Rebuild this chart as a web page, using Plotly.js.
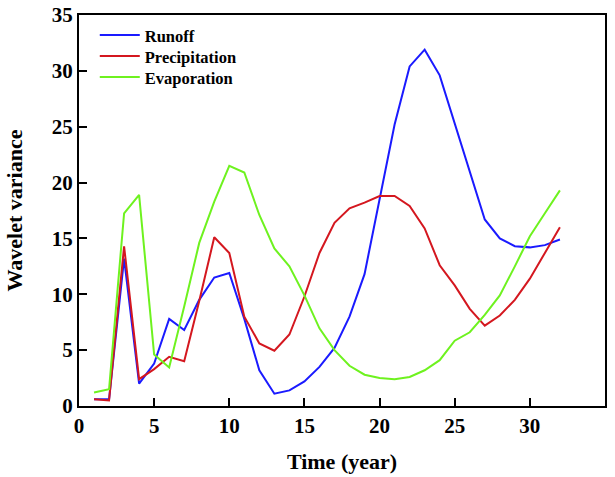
<!DOCTYPE html>
<html><head><meta charset="utf-8">
<script src="https://cdn.plot.ly/plotly-3.0.1.min.js"></script>
<style>body{margin:0;background:#fff}#c{width:615px;height:477px}</style>
</head><body><div id="c"></div>
<script>
const years = [1,2,3,4,5,6,7,8,9,10,11,12,13,14,15,16,17,18,19,20,21,22,23,24,25,26,27,28,29,30,31,32];
const runoff = [0.6,0.6,13.2,2.0,3.8,7.8,6.8,9.5,11.5,11.9,7.8,3.2,1.1,1.4,2.2,3.5,5.2,8.0,11.8,18.4,25.2,30.4,31.9,29.6,25.3,20.8,16.7,15.0,14.3,14.2,14.4,14.9];
const precipitation = [0.6,0.5,14.3,2.4,3.3,4.4,4.0,9.4,15.1,13.7,8.0,5.6,4.95,6.4,9.8,13.7,16.4,17.7,18.2,18.8,18.8,17.9,15.9,12.6,10.8,8.7,7.2,8.1,9.5,11.4,13.7,16.0];
const evaporation = [1.2,1.5,17.25,18.9,4.6,3.45,8.9,14.6,18.3,21.5,20.9,17.1,14.1,12.5,9.9,6.95,5.0,3.6,2.8,2.5,2.4,2.6,3.2,4.1,5.85,6.6,8.15,9.9,12.5,15.2,17.25,19.3];
const seriesNames = ['Runoff','Precipitation','Evaporation'];
const seriesColors = ['#1a1aff','#d4171f','#6ef21f'];
const seriesData = [runoff, precipitation, evaporation];
const legendIds = ['legend','legend2','legend3'];

const traces = seriesData.map((d,i)=>({x:years,y:d,type:'scatter',mode:'lines',name:seriesNames[i],legend:legendIds[i],line:{color:seriesColors[i],width:2}}));
const font = {family:'"Liberation Serif","Times New Roman",serif',color:'#000'};
const axisCommon = {showgrid:false,zeroline:false,showline:true,linecolor:'#000',linewidth:2,mirror:true,ticks:'inside',ticklen:8,tickwidth:2,tickcolor:'#000',tickfont:{...font,size:21,weight:'bold'}};
const legendBase = {x:0.03,xanchor:'left',yanchor:'top',bgcolor:'rgba(0,0,0,0)',font:{...font,size:16.5,weight:'bold'},itemwidth:40};
const layout = {
  width:615,height:477,
  margin:{l:79,r:10,t:15,b:71},
  paper_bgcolor:'#fff',plot_bgcolor:'#fff',
  font:font,
  xaxis:{...axisCommon,range:[0,35],dtick:5,title:{text:'<b>Time (year)</b>',font:{...font,size:22},standoff:16}},
  yaxis:{...axisCommon,range:[0,35],dtick:5,title:{text:'<b>Wavelet variance</b>',font:{...font,size:22},standoff:23}},
  showlegend:true,
  legend:{...legendBase,y:0.9926},
  legend2:{...legendBase,y:0.9926-0.0537},
  legend3:{...legendBase,y:0.9926-0.1074}
};
Plotly.newPlot('c',traces,layout,{displayModeBar:false,staticPlot:true});
</script></body></html>
